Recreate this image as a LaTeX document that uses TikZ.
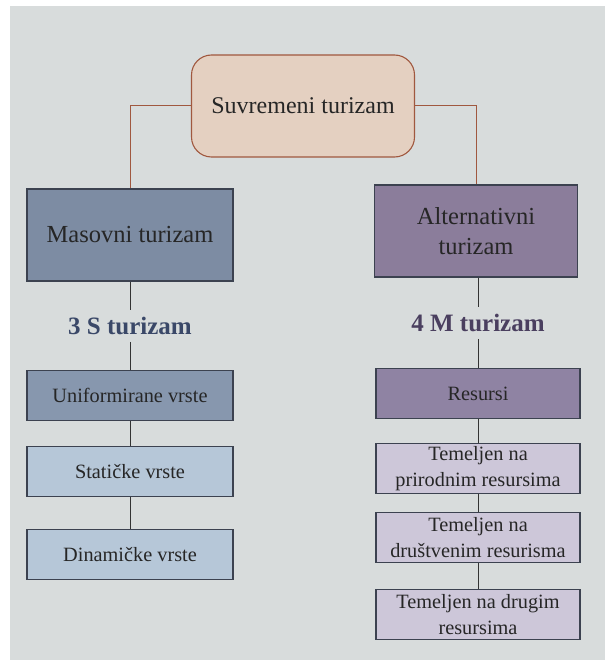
\documentclass[tikz,border=0pt]{standalone}
\usepackage{fontspec}
\setmainfont{Liberation Serif}
\usetikzlibrary{positioning}

\definecolor{page}{HTML}{D8DCDC}
\definecolor{peach}{HTML}{E4D0C1}
\definecolor{brick}{HTML}{A0583F}
\definecolor{slate}{HTML}{7D8CA3}
\definecolor{slatemid}{HTML}{8797AE}
\definecolor{skyish}{HTML}{B6C7D8}
\definecolor{plum}{HTML}{8B7D9B}
\definecolor{plummid}{HTML}{8F83A3}
\definecolor{lavender}{HTML}{CDC7D9}
\definecolor{inkblue}{HTML}{3A4868}
\definecolor{inkplum}{HTML}{4A3F5F}
\definecolor{edge}{HTML}{3C4250}

\begin{document}
\begin{tikzpicture}[
    x=1pt, y=-1pt,
    font=\fontsize{20.3}{26}\selectfont,
    main-box/.style={draw=edge, line width=1.1pt, text=black!85, minimum width=206pt, minimum height=92pt, align=center, font=\fontsize{24.5}{30}\selectfont},
    sub-box/.style={draw=edge, line width=1.1pt, text=black!85, minimum width=206pt, minimum height=50pt, inner sep=1pt, align=center},
    heading/.style={font=\fontsize{25}{28}\selectfont\bfseries, inner sep=0pt, minimum height=32pt},
    link/.style={draw=black!80, line width=0.9pt}
  ]

  \useasboundingbox (0,0) rectangle (605,660);
  \fill[white] (0,0) rectangle (605,660);
  \fill[page] (10,6) rectangle (605,660);

  \node[draw=brick, line width=1.1pt, fill=peach, rounded corners=20pt, minimum width=223pt, minimum height=102pt, text=black!85, font=\fontsize{24}{30}\selectfont] (top) at (303,106) {Suvremeni turizam};

  \node[main-box, fill=slate] (mas) at (130,235) {Masovni turizam};
  \node[main-box, fill=plum, minimum width=203pt] (alt) at (476,231) {Alternativni\\turizam};

  \draw[brick, line width=1pt] (top.west) -| (mas.north);
  \draw[brick, line width=1pt] (top.east) -| (alt.north);

  % left column
  \node[heading, text=inkblue, below=28pt of mas] (s3) {3 S turizam};
  \node[sub-box, fill=slatemid, below=28pt of s3] (uni) {Uniformirane vrste};
  \node[sub-box, fill=skyish, below=25pt of uni] (sta) {Statičke vrste};
  \node[sub-box, fill=skyish, below=32pt of sta] (din) {Dinamičke vrste};

  % right column
  \node[heading, text=inkplum, below=29pt of alt.south -| {(478,0)}] (m4) {4 M turizam};
  \node[sub-box, fill=plummid, minimum width=204pt, below=29pt of m4] (res) {Resursi};
  \node[sub-box, fill=lavender, minimum width=204pt, below=24pt of res] (pri) {Temeljen na\\prirodnim resursima};
  \node[sub-box, fill=lavender, minimum width=204pt, below=18pt of pri] (dru) {Temeljen na\\društvenim resurisma};
  \node[sub-box, fill=lavender, minimum width=204pt, below=26pt of dru] (drg) {Temeljen na drugim\\resursima};

  \foreach \a/\b in {mas/s3, s3/uni, uni/sta, sta/din, m4/res, res/pri, pri/dru, dru/drg}
    \draw[link] (\a.south) -- (\b.north);
  \draw[link] (alt.south -| m4) -- (m4.north);

\end{tikzpicture}
\end{document}
